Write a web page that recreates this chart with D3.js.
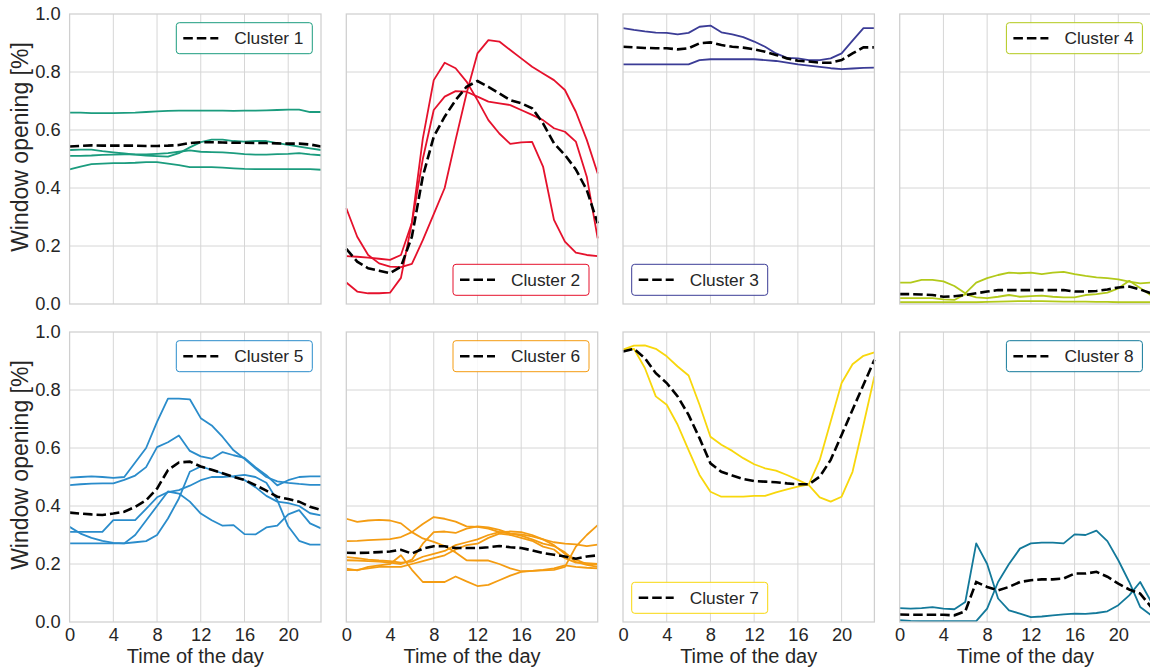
<!DOCTYPE html>
<html lang="en">
<head>
<meta charset="UTF-8">
<title>Window opening clusters</title>
<script src="https://d3js.org/d3.v7.min.js"></script>
<style>
  body { margin: 0; background: #fff; }
  text { font-family: "Liberation Sans", Arial, Helvetica, sans-serif; fill: #262626; }
</style>
</head>
<body>
<div id="chart"></div>
<script>
// hours of the day and axis ticks
const hours = [0,1,2,3,4,5,6,7,8,9,10,11,12,13,14,15,16,17,18,19,20,21,22,23];
const xTicks = [0, 4, 8, 12, 16, 20];
const yTicks = [0, 0.2, 0.4, 0.6, 0.8, 1.0];

const clusterNames = ["Cluster 1","Cluster 2","Cluster 3","Cluster 4","Cluster 5","Cluster 6","Cluster 7","Cluster 8"];
const clusterColors = ["#1b9c7e","#e5112c","#3b3c96","#b2c91a","#2a8ccb","#f49c12","#f8d70c","#13799a"];
const legendCorner = ["ur","lr","ll","ur","ur","ur","ll","ur"];

// cluster members (one array per building) and cluster mean
const c1Members = [
  [0.66,0.66,0.658,0.658,0.658,0.659,0.66,0.662,0.664,0.666,0.667,0.667,0.667,0.667,0.667,0.666,0.667,0.667,0.668,0.669,0.67,0.67,0.662,0.662],
  [0.531,0.532,0.532,0.527,0.523,0.519,0.515,0.512,0.51,0.508,0.52,0.54,0.558,0.567,0.567,0.562,0.56,0.562,0.562,0.555,0.549,0.543,0.537,0.531],
  [0.511,0.511,0.512,0.514,0.515,0.516,0.516,0.516,0.518,0.52,0.525,0.53,0.525,0.524,0.523,0.52,0.517,0.515,0.515,0.517,0.518,0.52,0.516,0.513],
  [0.464,0.474,0.482,0.484,0.486,0.486,0.487,0.489,0.489,0.484,0.479,0.472,0.472,0.472,0.47,0.468,0.466,0.465,0.465,0.465,0.465,0.465,0.465,0.463]
];
const c1Mean = [0.543,0.545,0.547,0.546,0.546,0.546,0.546,0.545,0.545,0.546,0.548,0.555,0.558,0.558,0.557,0.556,0.556,0.555,0.555,0.554,0.553,0.553,0.55,0.543];

const c2Members = [
  [0.33,0.232,0.169,0.14,0.129,0.127,0.138,0.22,0.31,0.40,0.566,0.726,0.864,0.91,0.905,0.876,0.847,0.818,0.795,0.772,0.738,0.663,0.566,0.45],
  [0.165,0.163,0.16,0.156,0.152,0.169,0.28,0.57,0.772,0.832,0.813,0.767,0.703,0.634,0.588,0.552,0.557,0.559,0.474,0.29,0.215,0.177,0.169,0.165],
  [0.074,0.043,0.037,0.037,0.039,0.09,0.28,0.5,0.669,0.715,0.734,0.732,0.715,0.698,0.692,0.686,0.669,0.652,0.634,0.606,0.594,0.56,0.439,0.226]
];
const c2Mean = [0.19,0.146,0.123,0.115,0.106,0.129,0.232,0.44,0.577,0.646,0.703,0.749,0.769,0.749,0.726,0.703,0.692,0.675,0.623,0.554,0.514,0.464,0.393,0.278];

const c3Members = [
  [0.951,0.945,0.94,0.936,0.935,0.93,0.935,0.956,0.96,0.937,0.93,0.92,0.905,0.887,0.864,0.849,0.847,0.841,0.841,0.847,0.864,0.908,0.951,0.951],
  [0.826,0.826,0.826,0.826,0.826,0.826,0.826,0.841,0.844,0.844,0.844,0.844,0.844,0.841,0.838,0.832,0.826,0.822,0.818,0.813,0.81,0.812,0.814,0.815]
];
const c3Mean = [0.887,0.885,0.883,0.882,0.882,0.878,0.882,0.899,0.902,0.893,0.887,0.884,0.878,0.87,0.859,0.847,0.839,0.836,0.832,0.832,0.841,0.864,0.885,0.885];

const c4Members = [
  [0.074,0.074,0.083,0.083,0.078,0.062,0.037,0.074,0.089,0.1,0.108,0.106,0.108,0.103,0.108,0.111,0.103,0.097,0.092,0.089,0.085,0.077,0.071,0.074],
  [0.02,0.02,0.02,0.02,0.016,0.014,0.034,0.023,0.02,0.025,0.031,0.025,0.027,0.029,0.025,0.023,0.023,0.031,0.034,0.039,0.054,0.08,0.055,0.03],
  [0.006,0.006,0.006,0.006,0.006,0.006,0.006,0.006,0.007,0.008,0.009,0.01,0.01,0.01,0.009,0.008,0.008,0.008,0.007,0.007,0.006,0.006,0.006,0.006]
];
const c4Mean = [0.034,0.034,0.033,0.031,0.025,0.027,0.031,0.037,0.043,0.048,0.048,0.048,0.048,0.048,0.048,0.048,0.043,0.043,0.045,0.05,0.057,0.06,0.05,0.037];

const c5Members = [
  [0.498,0.5,0.502,0.5,0.497,0.5,0.55,0.6,0.69,0.77,0.77,0.768,0.703,0.678,0.638,0.592,0.563,0.53,0.5,0.485,0.48,0.476,0.473,0.473],
  [0.472,0.475,0.477,0.478,0.478,0.49,0.505,0.534,0.603,0.62,0.643,0.59,0.571,0.563,0.586,0.575,0.566,0.534,0.506,0.471,0.489,0.5,0.502,0.502],
  [0.328,0.305,0.29,0.28,0.273,0.271,0.3,0.35,0.4,0.45,0.443,0.415,0.374,0.351,0.332,0.334,0.303,0.302,0.326,0.332,0.371,0.386,0.34,0.323],
  [0.271,0.271,0.271,0.271,0.271,0.271,0.275,0.279,0.3,0.357,0.426,0.518,0.536,0.525,0.512,0.5,0.49,0.465,0.435,0.415,0.41,0.40,0.375,0.368],
  [0.311,0.311,0.311,0.311,0.351,0.351,0.351,0.39,0.43,0.448,0.455,0.47,0.489,0.5,0.5,0.503,0.507,0.5,0.48,0.42,0.33,0.28,0.267,0.267]
];
const c5Mean = [0.377,0.374,0.371,0.369,0.374,0.38,0.397,0.42,0.46,0.524,0.55,0.553,0.536,0.525,0.513,0.5,0.49,0.472,0.453,0.432,0.424,0.415,0.397,0.386];

const c6Members = [
  [0.356,0.345,0.35,0.352,0.35,0.34,0.31,0.288,0.276,0.262,0.24,0.213,0.212,0.212,0.2,0.185,0.175,0.176,0.18,0.185,0.195,0.19,0.187,0.185],
  [0.279,0.28,0.282,0.284,0.286,0.293,0.31,0.338,0.362,0.356,0.346,0.33,0.328,0.322,0.31,0.305,0.302,0.295,0.285,0.275,0.27,0.268,0.262,0.267],
  [0.224,0.22,0.215,0.212,0.21,0.205,0.208,0.225,0.235,0.245,0.265,0.275,0.285,0.3,0.31,0.312,0.31,0.3,0.285,0.265,0.235,0.215,0.2,0.198],
  [0.213,0.212,0.21,0.208,0.205,0.2,0.215,0.27,0.31,0.312,0.307,0.322,0.33,0.326,0.318,0.305,0.298,0.285,0.27,0.262,0.24,0.207,0.197,0.19],
  [0.184,0.178,0.19,0.195,0.2,0.23,0.18,0.138,0.138,0.138,0.157,0.14,0.124,0.128,0.144,0.16,0.173,0.176,0.178,0.18,0.19,0.26,0.3,0.334],
  [0.179,0.18,0.185,0.19,0.19,0.19,0.2,0.21,0.22,0.23,0.25,0.265,0.27,0.29,0.305,0.3,0.29,0.28,0.26,0.25,0.22,0.205,0.203,0.2]
];
const c6Mean = [0.239,0.238,0.239,0.241,0.243,0.249,0.236,0.253,0.261,0.261,0.255,0.255,0.255,0.258,0.262,0.258,0.255,0.247,0.238,0.232,0.226,0.218,0.226,0.23];

const c7Members = [
  [0.939,0.953,0.954,0.942,0.916,0.881,0.85,0.749,0.639,0.611,0.59,0.565,0.544,0.53,0.522,0.507,0.49,0.472,0.43,0.415,0.432,0.518,0.68,0.847],
  [0.939,0.942,0.876,0.778,0.749,0.68,0.593,0.507,0.449,0.432,0.432,0.432,0.435,0.435,0.447,0.457,0.467,0.475,0.559,0.691,0.824,0.889,0.918,0.93]
];
const c7Mean = [0.933,0.942,0.91,0.858,0.824,0.778,0.714,0.634,0.547,0.518,0.505,0.493,0.486,0.484,0.482,0.478,0.475,0.475,0.501,0.559,0.645,0.732,0.818,0.904];

const c8Members = [
  [0.006,0.004,0.003,0.003,0.003,0.003,0.003,0.003,0.046,0.138,0.2,0.253,0.271,0.274,0.274,0.271,0.302,0.3,0.315,0.279,0.213,0.138,0.052,0.023],
  [0.048,0.046,0.048,0.051,0.046,0.044,0.069,0.271,0.2,0.081,0.04,0.029,0.017,0.019,0.023,0.026,0.029,0.028,0.031,0.037,0.058,0.092,0.138,0.07]
];
const c8Mean = [0.026,0.025,0.025,0.025,0.025,0.023,0.037,0.138,0.121,0.109,0.121,0.138,0.144,0.147,0.147,0.15,0.167,0.167,0.173,0.156,0.132,0.112,0.098,0.052];

const allMembers = [c1Members, c2Members, c3Members, c4Members, c5Members, c6Members, c7Members, c8Members];
const allMeans = [c1Mean, c2Mean, c3Mean, c4Mean, c5Mean, c6Mean, c7Mean, c8Mean];

// layout
const W = 1150, H = 672;
const panelW = 251.4, panelH = 290;
const lefts = [69.6, 346.3, 623, 899.7];
const tops = [14, 332];

const svg = d3.select("#chart").append("svg")
  .attr("width", W).attr("height", H);
svg.append("rect").attr("width", W).attr("height", H).attr("fill", "#fff");

const x = d3.scaleLinear().domain([0, 23]).range([0, panelW]);
const y = d3.scaleLinear().domain([0, 1]).range([panelH, 0]);

const line = d3.line()
  .x((d, i) => x(hours[i]))
  .y(d => y(d));

allMeans.forEach((mean, k) => {
  const row = Math.floor(k / 4), col = k % 4;
  const color = clusterColors[k];
  const g = svg.append("g").attr("transform", `translate(${lefts[col]},${tops[row]})`);

  // grid
  g.append("g").selectAll("line").data(yTicks.slice(1, -1)).join("line")
    .attr("x1", 0).attr("x2", panelW)
    .attr("y1", d => y(d)).attr("y2", d => y(d))
    .attr("stroke", "#d6d6d6").attr("stroke-width", 1);
  g.append("g").selectAll("line").data(xTicks.slice(1)).join("line")
    .attr("y1", 0).attr("y2", panelH)
    .attr("x1", d => x(d)).attr("x2", d => x(d))
    .attr("stroke", "#d6d6d6").attr("stroke-width", 1);

  // member lines
  g.append("g").selectAll("path").data(allMembers[k]).join("path")
    .attr("d", line)
    .attr("fill", "none")
    .attr("stroke", color)
    .attr("stroke-width", 1.8)
    .attr("stroke-linejoin", "round");

  // cluster mean
  g.append("path").datum(mean)
    .attr("d", line)
    .attr("fill", "none")
    .attr("stroke", "#000")
    .attr("stroke-width", 2.6)
    .attr("stroke-dasharray", "9.5,4");

  // frame
  g.append("rect").attr("width", panelW).attr("height", panelH)
    .attr("fill", "none").attr("stroke", "#cfcfcf").attr("stroke-width", 1.25);

  // y tick labels on first column
  if (col === 0) {
    const ya = g.append("g").call(d3.axisLeft(y).tickValues(yTicks).tickFormat(d3.format(".1f")).tickSize(0).tickPadding(9));
    ya.select(".domain").remove();
    ya.selectAll("text").attr("font-size", 18.3).attr("fill", "#262626")
      .style("font-family", '"Liberation Sans", Arial, sans-serif');
    g.append("text")
      .attr("transform", `translate(-41.5,${panelH / 2 - 12}) rotate(-90)`)
      .attr("text-anchor", "middle")
      .attr("font-size", 23)
      .text("Window opening [%]");
  }
  // x tick labels on bottom row
  if (row === 1) {
    const xa = g.append("g").attr("transform", `translate(0,${panelH})`)
      .call(d3.axisBottom(x).tickValues(xTicks).tickSize(0).tickPadding(6));
    xa.select(".domain").remove();
    xa.selectAll("text").attr("font-size", 18.3).attr("fill", "#262626")
      .style("font-family", '"Liberation Sans", Arial, sans-serif');
    g.append("text")
      .attr("x", panelW / 2).attr("y", panelH + 41)
      .attr("text-anchor", "middle")
      .attr("font-size", 20)
      .text("Time of the day");
  }

  // legend
  const lw = 136, lh = 31, pad = 8.7;
  const corner = legendCorner[k];
  const lx = corner === "ll" ? pad : panelW - pad - lw;
  const ly = corner === "ur" ? pad : panelH - pad - lh;
  const lg = g.append("g").attr("transform", `translate(${lx},${ly})`);
  lg.append("rect").attr("width", lw).attr("height", lh).attr("rx", 3)
    .attr("fill", "#fff").attr("fill-opacity", 0.85)
    .attr("stroke", color).attr("stroke-width", 1);
  lg.append("line").attr("x1", 7).attr("x2", 42).attr("y1", lh / 2).attr("y2", lh / 2)
    .attr("stroke", "#000").attr("stroke-width", 2.6).attr("stroke-dasharray", "9.5,4");
  lg.append("text").attr("x", 58).attr("y", lh / 2 + 6)
    .attr("font-size", 17.3)
    .text(clusterNames[k]);
});
</script>
</body>
</html>
